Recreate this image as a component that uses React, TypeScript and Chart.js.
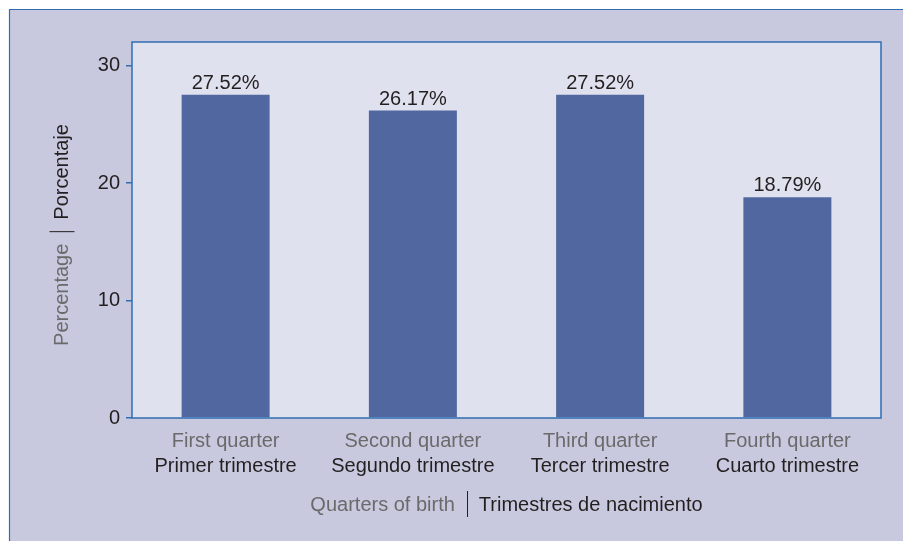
import React, { useEffect, useRef } from "react";
import { Chart, registerables } from "chart.js";

Chart.register(...registerables);

const categoriesEn = ["First quarter", "Second quarter", "Third quarter", "Fourth quarter"];
const categoriesEs = ["Primer trimestre", "Segundo trimestre", "Tercer trimestre", "Cuarto trimestre"];
const values = [27.52, 26.17, 27.52, 18.79];
const yTickValues = [0, 10, 20, 30];
const yTitleEn = "Percentage";
const yTitleEs = "Porcentaje";
const xTitleEn = "Quarters of birth";
const xTitleEs = "Trimestres de nacimiento";

const FONT = "'Liberation Sans', Arial, sans-serif";
const FS = 20;
const GREY = "#6a6a6a";
const DARK = "#231f20";
const BLUE = "#2f6db3";
const PANEL = "#c8c9de";
const PLOTBG = "#e0e1ee";
const BAR = "#50689f";

const framePlugin = {
  id: "frame",
  beforeDraw(chart: any) {
    const { ctx, chartArea, width, height } = chart;
    ctx.save();
    ctx.fillStyle = "#ffffff";
    ctx.fillRect(0, 0, width, height);
    ctx.fillStyle = PANEL;
    ctx.fillRect(9, 9, width - 9, height - 9);
    ctx.strokeStyle = BLUE;
    ctx.lineWidth = 1.2;
    ctx.beginPath();
    ctx.moveTo(9.5, height);
    ctx.lineTo(9.5, 9.5);
    ctx.lineTo(width, 9.5);
    ctx.stroke();
    ctx.fillStyle = PLOTBG;
    ctx.fillRect(chartArea.left, chartArea.top, chartArea.right - chartArea.left, chartArea.bottom - chartArea.top);
    ctx.restore();
  },
  afterDatasetsDraw(chart: any) {
    const { ctx, chartArea } = chart;
    ctx.save();
    ctx.strokeStyle = BLUE;
    ctx.lineWidth = 1.5;
    ctx.strokeRect(chartArea.left, chartArea.top, chartArea.right - chartArea.left, chartArea.bottom - chartArea.top);

    // value labels
    const meta = chart.getDatasetMeta(0);
    ctx.font = `${FS}px ${FONT}`;
    ctx.fillStyle = DARK;
    ctx.textAlign = "center";
    ctx.textBaseline = "alphabetic";
    meta.data.forEach((bar: any, i: number) => {
      ctx.fillText(values[i].toFixed(2) + "%", bar.x, bar.y - 6);
    });

    // x category labels (two lines, two colours)
    const xScale = chart.scales.x;
    categoriesEn.forEach((lab, i) => {
      const x = xScale.getPixelForValue(i);
      ctx.textBaseline = "middle";
      ctx.fillStyle = GREY;
      ctx.fillText(lab, x, chartArea.bottom + 23);
      ctx.fillStyle = DARK;
      ctx.fillText(categoriesEs[i], x, chartArea.bottom + 48);
    });

    // x title
    const gap = 12;
    const wEn = ctx.measureText(xTitleEn).width;
    const wEs = ctx.measureText(xTitleEs).width;
    const total = wEn + gap * 2 + wEs;
    const cx = (chartArea.left + chartArea.right) / 2;
    const ty = chartArea.bottom + 87;
    let sx = cx - total / 2;
    ctx.textAlign = "left";
    ctx.fillStyle = GREY;
    ctx.fillText(xTitleEn, sx, ty);
    ctx.strokeStyle = DARK;
    ctx.lineWidth = 1;
    ctx.beginPath();
    ctx.moveTo(Math.round(sx + wEn + gap) + 0.5, ty - 14);
    ctx.lineTo(Math.round(sx + wEn + gap) + 0.5, ty + 12);
    ctx.stroke();
    ctx.fillStyle = DARK;
    ctx.fillText(xTitleEs, sx + wEn + gap * 2, ty);

    // y title rotated
    const yEn = ctx.measureText(yTitleEn).width;
    const yEs = ctx.measureText(yTitleEs).width;
    const ytotal = yEn + gap * 2 + yEs;
    const cy = (chartArea.top + chartArea.bottom) / 2 + 5;
    ctx.translate(62, cy);
    ctx.rotate(-Math.PI / 2);
    let s = -ytotal / 2;
    ctx.fillStyle = GREY;
    ctx.fillText(yTitleEn, s, 0);
    ctx.beginPath();
    ctx.moveTo(s + yEn + gap, -12.5);
    ctx.lineTo(s + yEn + gap, 12.5);
    ctx.stroke();
    ctx.fillStyle = DARK;
    ctx.fillText(yTitleEs, s + yEn + gap * 2, 0);
    ctx.restore();
  },
};

export default function App() {
  const ref = useRef<HTMLCanvasElement>(null);
  useEffect(() => {
    if (!ref.current) return;
    const chart = new Chart(ref.current, {
      type: "bar",
      data: {
        labels: categoriesEn,
        datasets: [
          {
            data: values,
            backgroundColor: BAR,
            borderWidth: 0,
            categoryPercentage: 1,
            barPercentage: 0.47,
          },
        ],
      },
      plugins: [framePlugin],
      options: {
        responsive: false,
        animation: false,
        devicePixelRatio: 1,
        layout: { padding: { top: 42, right: 22, left: 0, bottom: 0 } },
        plugins: { legend: { display: false }, tooltip: { enabled: false } },
        scales: {
          x: {
            grid: { display: false },
            border: { display: false },
            ticks: { display: false },
            afterFit: (s: any) => {
              s.height = 123;
            },
          },
          y: {
            min: 0,
            max: 32,
            border: { display: false },
            grid: { drawOnChartArea: false, color: BLUE, tickLength: 6, lineWidth: 1.5 },
            ticks: {
              includeBounds: false,
              stepSize: 10,
              padding: 6,
              color: DARK,
              font: { family: FONT, size: FS },
            },
            afterBuildTicks: (s: any) => {
              s.ticks = yTickValues.map((v) => ({ value: v }));
            },
            afterFit: (s: any) => {
              s.width = 132;
            },
          },
        },
      },
    });
    return () => chart.destroy();
  }, []);
  return (
    <div style={{ position: "absolute", left: 0, top: 0, width: 903, height: 541 }}>
      <canvas ref={ref} width={903} height={541} style={{ display: "block", width: 903, height: 541 }} />
    </div>
  );
}
